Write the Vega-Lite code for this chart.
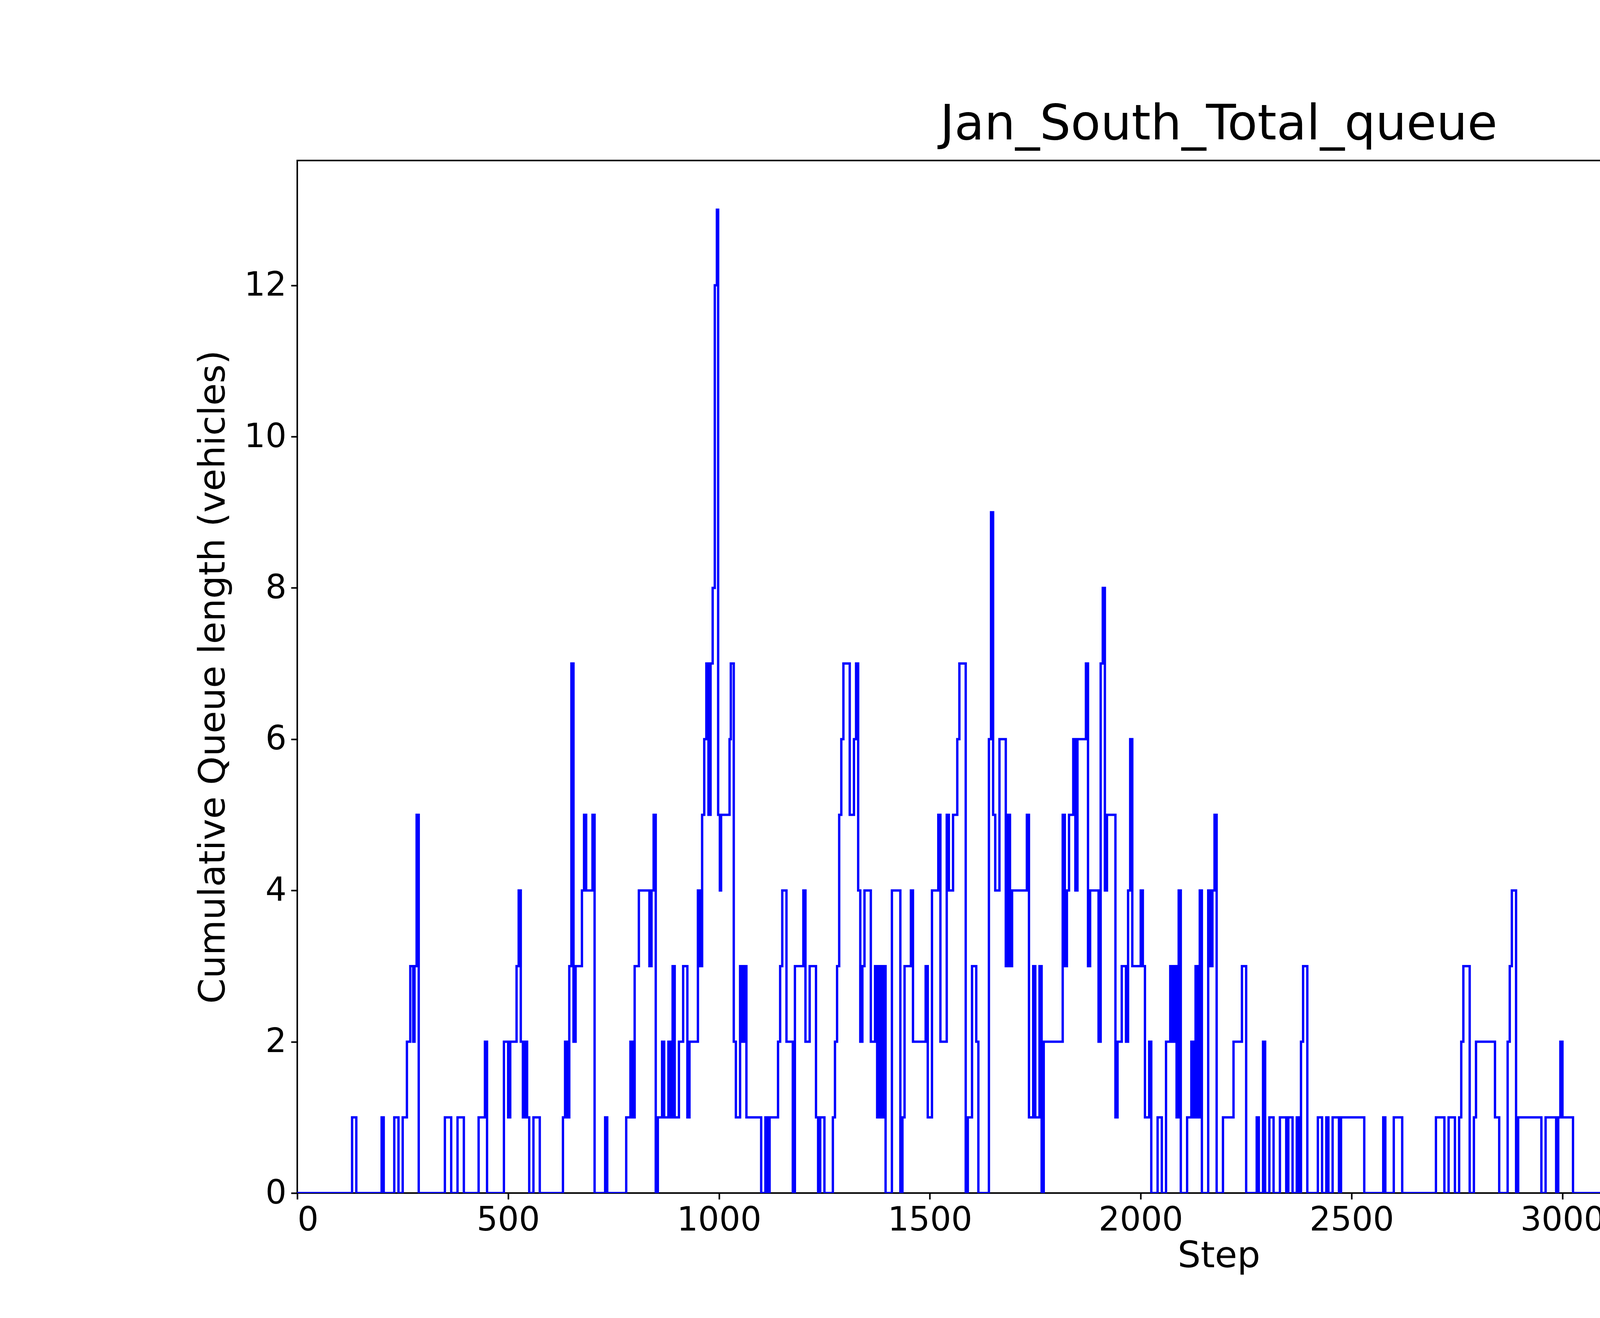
{
  "$schema": "https://vega.github.io/schema/vega-lite/v6.json",
  "autosize": {"type": "fit", "contains": "padding"},
  "width": 6000,
  "height": 3375,
  "padding": {"left": 500, "top": 257, "right": 521, "bottom": 112},
  "background": "white",
  "config": {
    "font": "DejaVu Sans",
    "view": {"stroke": "black", "strokeWidth": 4},
    "axis": {"grid": false, "domain": false, "tickColor": "black", "tickWidth": 4, "tickSize": 16, "labelLimit": 0,
      "labelFont": "DejaVu Sans", "labelFontSize": 85, "labelColor": "black",
      "titleFont": "DejaVu Sans", "titleFontSize": 93, "titleFontWeight": "normal", "titleColor": "black"}
  },
  "title": {"text": "Jan_South_Total_queue", "fontSize": 125, "fontWeight": "normal", "font": "DejaVu Sans", "offset": 28, "color": "black"},
  "data": {
    "values": [
      {"step": 0, "q": 0}, {"step": 130, "q": 1}, {"step": 140, "q": 0}, {"step": 200, "q": 1}, {"step": 205, "q": 0},
      {"step": 230, "q": 1}, {"step": 240, "q": 0}, {"step": 250, "q": 1}, {"step": 260, "q": 2}, {"step": 268, "q": 3},
      {"step": 275, "q": 2}, {"step": 278, "q": 3}, {"step": 283, "q": 5}, {"step": 288, "q": 0}, {"step": 350, "q": 1},
      {"step": 365, "q": 0}, {"step": 380, "q": 1}, {"step": 395, "q": 0}, {"step": 430, "q": 1}, {"step": 445, "q": 2},
      {"step": 450, "q": 0}, {"step": 490, "q": 2}, {"step": 500, "q": 1}, {"step": 505, "q": 2}, {"step": 520, "q": 3},
      {"step": 525, "q": 4}, {"step": 530, "q": 2}, {"step": 535, "q": 1}, {"step": 540, "q": 2}, {"step": 545, "q": 1},
      {"step": 550, "q": 0}, {"step": 560, "q": 1}, {"step": 575, "q": 0}, {"step": 630, "q": 1}, {"step": 635, "q": 2},
      {"step": 640, "q": 1}, {"step": 645, "q": 3}, {"step": 650, "q": 7}, {"step": 655, "q": 2}, {"step": 660, "q": 3},
      {"step": 675, "q": 4}, {"step": 680, "q": 5}, {"step": 685, "q": 4}, {"step": 700, "q": 5}, {"step": 705, "q": 0},
      {"step": 730, "q": 1}, {"step": 735, "q": 0}, {"step": 780, "q": 1}, {"step": 790, "q": 2}, {"step": 795, "q": 1},
      {"step": 800, "q": 3}, {"step": 810, "q": 4}, {"step": 835, "q": 3}, {"step": 840, "q": 4}, {"step": 845, "q": 5},
      {"step": 850, "q": 0}, {"step": 855, "q": 1}, {"step": 865, "q": 2}, {"step": 870, "q": 1}, {"step": 880, "q": 2},
      {"step": 885, "q": 1}, {"step": 890, "q": 3}, {"step": 895, "q": 1}, {"step": 905, "q": 2}, {"step": 915, "q": 3},
      {"step": 925, "q": 1}, {"step": 930, "q": 2}, {"step": 950, "q": 4}, {"step": 955, "q": 3}, {"step": 960, "q": 5},
      {"step": 965, "q": 6}, {"step": 970, "q": 7}, {"step": 975, "q": 5}, {"step": 980, "q": 7}, {"step": 985, "q": 8},
      {"step": 990, "q": 12}, {"step": 995, "q": 13}, {"step": 998, "q": 5}, {"step": 1002, "q": 4}, {"step": 1005, "q": 5},
      {"step": 1025, "q": 6}, {"step": 1028, "q": 7}, {"step": 1035, "q": 2}, {"step": 1040, "q": 1}, {"step": 1050, "q": 3},
      {"step": 1055, "q": 2}, {"step": 1060, "q": 3}, {"step": 1065, "q": 1}, {"step": 1100, "q": 0}, {"step": 1110, "q": 1},
      {"step": 1115, "q": 0}, {"step": 1120, "q": 1}, {"step": 1140, "q": 2}, {"step": 1145, "q": 3}, {"step": 1150, "q": 4},
      {"step": 1160, "q": 2}, {"step": 1175, "q": 0}, {"step": 1180, "q": 3}, {"step": 1200, "q": 4}, {"step": 1205, "q": 2},
      {"step": 1215, "q": 3}, {"step": 1230, "q": 1}, {"step": 1235, "q": 0}, {"step": 1240, "q": 1}, {"step": 1250, "q": 0},
      {"step": 1270, "q": 1}, {"step": 1275, "q": 2}, {"step": 1280, "q": 3}, {"step": 1285, "q": 5}, {"step": 1290, "q": 6},
      {"step": 1295, "q": 7}, {"step": 1310, "q": 5}, {"step": 1320, "q": 6}, {"step": 1325, "q": 7}, {"step": 1330, "q": 4},
      {"step": 1335, "q": 2}, {"step": 1340, "q": 3}, {"step": 1345, "q": 4}, {"step": 1360, "q": 2}, {"step": 1370, "q": 3},
      {"step": 1375, "q": 1}, {"step": 1380, "q": 3}, {"step": 1385, "q": 1}, {"step": 1390, "q": 3}, {"step": 1395, "q": 0},
      {"step": 1410, "q": 4}, {"step": 1430, "q": 0}, {"step": 1435, "q": 1}, {"step": 1440, "q": 3}, {"step": 1455, "q": 4},
      {"step": 1460, "q": 2}, {"step": 1490, "q": 3}, {"step": 1495, "q": 1}, {"step": 1505, "q": 4}, {"step": 1520, "q": 5},
      {"step": 1525, "q": 2}, {"step": 1540, "q": 5}, {"step": 1545, "q": 4}, {"step": 1555, "q": 5}, {"step": 1565, "q": 6},
      {"step": 1570, "q": 7}, {"step": 1585, "q": 0}, {"step": 1590, "q": 1}, {"step": 1600, "q": 3}, {"step": 1610, "q": 2},
      {"step": 1615, "q": 0}, {"step": 1640, "q": 6}, {"step": 1645, "q": 9}, {"step": 1650, "q": 5}, {"step": 1655, "q": 4},
      {"step": 1665, "q": 6}, {"step": 1680, "q": 3}, {"step": 1685, "q": 5}, {"step": 1690, "q": 3}, {"step": 1695, "q": 4},
      {"step": 1730, "q": 5}, {"step": 1735, "q": 1}, {"step": 1745, "q": 3}, {"step": 1750, "q": 1}, {"step": 1760, "q": 3},
      {"step": 1765, "q": 0}, {"step": 1770, "q": 2}, {"step": 1815, "q": 5}, {"step": 1820, "q": 3}, {"step": 1825, "q": 4},
      {"step": 1830, "q": 5}, {"step": 1840, "q": 6}, {"step": 1845, "q": 4}, {"step": 1850, "q": 6}, {"step": 1870, "q": 7},
      {"step": 1875, "q": 3}, {"step": 1880, "q": 4}, {"step": 1900, "q": 2}, {"step": 1905, "q": 7}, {"step": 1910, "q": 8},
      {"step": 1915, "q": 4}, {"step": 1920, "q": 5}, {"step": 1940, "q": 1}, {"step": 1945, "q": 2}, {"step": 1955, "q": 3},
      {"step": 1965, "q": 2}, {"step": 1970, "q": 4}, {"step": 1975, "q": 6}, {"step": 1980, "q": 3}, {"step": 2000, "q": 4},
      {"step": 2005, "q": 3}, {"step": 2010, "q": 1}, {"step": 2020, "q": 2}, {"step": 2025, "q": 0}, {"step": 2040, "q": 1},
      {"step": 2050, "q": 0}, {"step": 2060, "q": 2}, {"step": 2070, "q": 3}, {"step": 2075, "q": 2}, {"step": 2080, "q": 3},
      {"step": 2085, "q": 1}, {"step": 2090, "q": 4}, {"step": 2095, "q": 0}, {"step": 2110, "q": 1}, {"step": 2120, "q": 2},
      {"step": 2125, "q": 1}, {"step": 2130, "q": 3}, {"step": 2135, "q": 1}, {"step": 2140, "q": 4}, {"step": 2145, "q": 0},
      {"step": 2160, "q": 4}, {"step": 2165, "q": 3}, {"step": 2170, "q": 4}, {"step": 2175, "q": 5}, {"step": 2180, "q": 0},
      {"step": 2195, "q": 1}, {"step": 2220, "q": 2}, {"step": 2240, "q": 3}, {"step": 2250, "q": 0}, {"step": 2275, "q": 1},
      {"step": 2280, "q": 0}, {"step": 2290, "q": 2}, {"step": 2295, "q": 0}, {"step": 2305, "q": 1}, {"step": 2315, "q": 0},
      {"step": 2330, "q": 1}, {"step": 2345, "q": 0}, {"step": 2350, "q": 1}, {"step": 2360, "q": 0}, {"step": 2370, "q": 1},
      {"step": 2375, "q": 0}, {"step": 2380, "q": 2}, {"step": 2385, "q": 3}, {"step": 2395, "q": 0}, {"step": 2420, "q": 1},
      {"step": 2430, "q": 0}, {"step": 2440, "q": 1}, {"step": 2445, "q": 0}, {"step": 2455, "q": 1}, {"step": 2470, "q": 0},
      {"step": 2475, "q": 1}, {"step": 2530, "q": 0}, {"step": 2575, "q": 1}, {"step": 2580, "q": 0}, {"step": 2600, "q": 1},
      {"step": 2620, "q": 0}, {"step": 2700, "q": 1}, {"step": 2720, "q": 0}, {"step": 2730, "q": 1}, {"step": 2745, "q": 0},
      {"step": 2755, "q": 1}, {"step": 2760, "q": 2}, {"step": 2765, "q": 3}, {"step": 2780, "q": 0}, {"step": 2790, "q": 1},
      {"step": 2795, "q": 2}, {"step": 2840, "q": 1}, {"step": 2850, "q": 0}, {"step": 2870, "q": 2}, {"step": 2875, "q": 3},
      {"step": 2880, "q": 4}, {"step": 2890, "q": 0}, {"step": 2895, "q": 1}, {"step": 2950, "q": 0}, {"step": 2960, "q": 1},
      {"step": 2985, "q": 0}, {"step": 2990, "q": 1}, {"step": 2995, "q": 2}, {"step": 3000, "q": 1}, {"step": 3025, "q": 0},
      {"step": 3110, "q": 1}, {"step": 3115, "q": 0}, {"step": 3120, "q": 1}, {"step": 3125, "q": 2}, {"step": 3130, "q": 3},
      {"step": 3150, "q": 0}, {"step": 3220, "q": 1}, {"step": 3225, "q": 0}, {"step": 3280, "q": 1}, {"step": 3285, "q": 2},
      {"step": 3290, "q": 0}, {"step": 3325, "q": 1}, {"step": 3345, "q": 0}, {"step": 3355, "q": 1}, {"step": 3360, "q": 0},
      {"step": 3590, "q": 1}, {"step": 3600, "q": 0}, {"step": 3610, "q": 1}, {"step": 3635, "q": 0}, {"step": 3690, "q": 1},
      {"step": 3695, "q": 0}, {"step": 4370, "q": 0}
    ]
  },
  "mark": {"type": "line", "interpolate": "step-after", "color": "#0000ff", "strokeWidth": 6, "clip": true},
  "encoding": {
    "x": {"field": "step", "type": "quantitative", "title": "Step",
      "scale": {"domain": [0, 4370], "nice": false, "zero": false},
      "axis": {"values": [0, 500, 1000, 1500, 2000, 2500, 3000, 3500, 4000], "format": "d", "labelPadding": 12, "titlePadding": 4}},
    "y": {"field": "q", "type": "quantitative", "title": "Cumulative Queue length (vehicles)",
      "scale": {"domain": [0, 13.65], "nice": false},
      "axis": {"values": [0, 2, 4, 6, 8, 10, 12], "labelPadding": 12, "titlePadding": 30}}
  }
}
